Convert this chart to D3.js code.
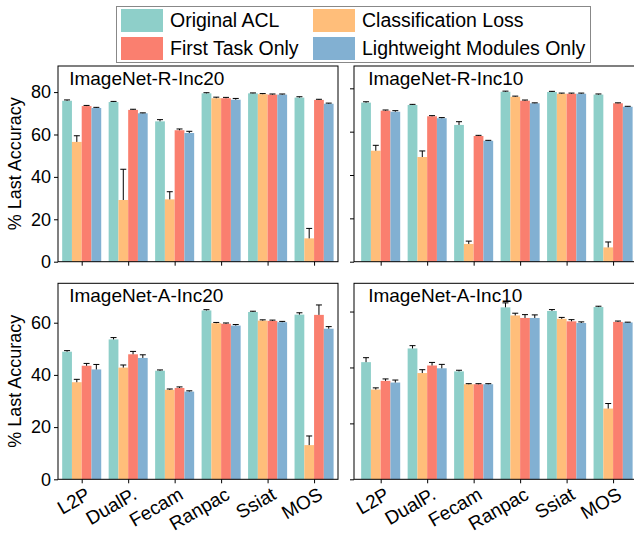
<!DOCTYPE html>
<html><head><meta charset="utf-8">
<script src="https://cdn.jsdelivr.net/npm/d3@7"></script>
<style>body{margin:0;background:#fff}svg{display:block}text{font-family:"Liberation Sans",Arial,sans-serif}</style>
</head><body>
<svg id="c" width="634" height="536"></svg>
<script>
// ---------- data ----------
const categories = ["L2P", "DualP.", "Fecam", "Ranpac", "Ssiat", "MOS"];
const seriesNames = ["Original ACL", "Classification Loss", "First Task Only", "Lightweight Modules Only"];
const seriesColors = ["#8ECFC9", "#FFBE7A", "#FA7F6F", "#82B0D2"];
const panelTitles = ["ImageNet-R-Inc20", "ImageNet-R-Inc10", "ImageNet-A-Inc20", "ImageNet-A-Inc10"];
const topTicks = [0, 20, 40, 60, 80];
const bottomTicks = [0, 20, 40, 60];

// ImageNet-R-Inc20
const rInc20Orig  = [75.9, 75.3, 66.2, 79.4, 79.4, 77.4];
const rInc20Cls   = [56.5, 29.1, 29.4, 77.1, 79.0, 11.0];
const rInc20First = [73.4, 71.6, 62.0, 77.1, 78.8, 76.3];
const rInc20Light = [72.5, 70.0, 60.7, 76.4, 78.8, 74.5];
const rInc20OrigErr  = [0.4, 0.3, 0.8, 0.3, 0.2, 0.4];
const rInc20ClsErr   = [2.9, 14.5, 3.6, 0.5, 0.3, 4.7];
const rInc20FirstErr = [0.3, 0.3, 0.6, 0.4, 0.3, 0.3];
const rInc20LightErr = [0.3, 0.2, 0.8, 0.6, 0.3, 0.3];
// ImageNet-R-Inc10
const rInc10Orig  = [73.4, 72.3, 63.1, 78.4, 78.3, 77.1];
const rInc10Cls   = [51.2, 48.3, 8.2, 76.1, 77.5, 6.6];
const rInc10First = [69.7, 67.1, 58.0, 74.3, 77.5, 73.1];
const rInc10Light = [69.2, 66.2, 55.8, 73.1, 77.5, 71.5];
const rInc10OrigErr  = [0.4, 0.3, 1.5, 0.3, 0.3, 0.3];
const rInc10ClsErr   = [2.5, 2.8, 1.3, 0.3, 0.3, 2.5];
const rInc10FirstErr = [0.3, 0.3, 0.3, 0.3, 0.3, 0.2];
const rInc10LightErr = [0.5, 0.3, 0.2, 0.2, 0.3, 0.2];
// ImageNet-A-Inc20
const aInc20Orig  = [48.9, 53.6, 41.6, 64.7, 64.1, 63.1];
const aInc20Cls   = [37.2, 42.8, 34.3, 59.8, 60.8, 13.1];
const aInc20First = [43.5, 47.9, 35.0, 59.6, 60.7, 63.0];
const aInc20Light = [42.1, 46.5, 33.6, 58.9, 60.2, 57.7];
const aInc20OrigErr  = [0.4, 0.7, 0.3, 0.3, 0.3, 0.7];
const aInc20ClsErr   = [1.1, 1.0, 0.3, 0.3, 0.3, 3.5];
const aInc20FirstErr = [0.9, 1.1, 0.4, 0.3, 0.3, 3.8];
const aInc20LightErr = [1.9, 1.2, 0.3, 0.4, 0.3, 0.8];
// ImageNet-A-Inc10
const aInc10Orig  = [41.9, 46.8, 38.6, 61.5, 60.2, 61.6];
const aInc10Cls   = [32.1, 38.0, 34.0, 58.6, 57.4, 25.3];
const aInc10First = [35.2, 40.7, 34.0, 57.7, 56.5, 56.3];
const aInc10Light = [34.6, 39.7, 34.0, 57.7, 55.9, 56.1];
const aInc10OrigErr  = [1.6, 1.0, 0.4, 1.6, 0.5, 0.3];
const aInc10ClsErr   = [0.6, 1.2, 0.2, 0.8, 0.5, 1.8];
const aInc10FirstErr = [0.7, 1.1, 0.2, 1.2, 0.6, 0.3];
const aInc10LightErr = [0.9, 1.4, 0.2, 1.1, 0.4, 0.1];

// ---------- layout ----------
const panels = [
  {title: panelTitles[0], vals: [rInc20Orig, rInc20Cls, rInc20First, rInc20Light], errs: [rInc20OrigErr, rInc20ClsErr, rInc20FirstErr, rInc20LightErr],
   x0: 58, x1: 338, xd: [-0.51, 5.515], y0: 66, y1: 261.7, yMax: 92.3, ticks: topTicks, yLabels: true, xLabels: false},
  {title: panelTitles[1], vals: [rInc10Orig, rInc10Cls, rInc10First, rInc10Light], errs: [rInc10OrigErr, rInc10ClsErr, rInc10FirstErr, rInc10LightErr],
   x0: 354, x1: 642, xd: [-0.574, 5.622], y0: 66, y1: 261.7, yMax: 90.3, ticks: topTicks, yLabels: false, xLabels: false},
  {title: panelTitles[2], vals: [aInc20Orig, aInc20Cls, aInc20First, aInc20Light], errs: [aInc20OrigErr, aInc20ClsErr, aInc20FirstErr, aInc20LightErr],
   x0: 58, x1: 338, xd: [-0.51, 5.515], y0: 283.3, y1: 479.3, yMax: 75.1, ticks: bottomTicks, yLabels: true, xLabels: true},
  {title: panelTitles[3], vals: [aInc10Orig, aInc10Cls, aInc10First, aInc10Light], errs: [aInc10OrigErr, aInc10ClsErr, aInc10FirstErr, aInc10LightErr],
   x0: 354, x1: 642, xd: [-0.574, 5.622], y0: 283.3, y1: 479.3, yMax: 70.1, ticks: bottomTicks, yLabels: false, xLabels: true}
];

const svg = d3.select("#c");
const barW = 0.21;
const FS = 18;

panels.forEach(p => {
  const xs = d3.scaleLinear().domain(p.xd).range([p.x0, p.x1]);
  const ys = d3.scaleLinear().domain([0, p.yMax]).range([p.y1, p.y0]);
  const g = svg.append("g");
  const bwPx = xs(barW) - xs(0);

  p.vals.forEach((arr, j) => {
    const off = (j - 1.5) * barW;
    g.selectAll(null).data(arr).enter().append("rect")
      .attr("x", (d, i) => xs(i + off) - bwPx / 2)
      .attr("width", bwPx)
      .attr("y", d => ys(d))
      .attr("height", d => ys(0) - ys(d))
      .attr("fill", seriesColors[j]);
  });
  // error bars (upper)
  p.vals.forEach((arr, j) => {
    const off = (j - 1.5) * barW;
    arr.forEach((v, i) => {
      const e = p.errs[j][i];
      const cx = xs(i + off);
      g.append("line").attr("x1", cx).attr("x2", cx).attr("y1", ys(v)).attr("y2", ys(v + e))
        .attr("stroke", "#000").attr("stroke-width", 1);
      g.append("line").attr("x1", cx - 3).attr("x2", cx + 3).attr("y1", ys(v + e)).attr("y2", ys(v + e))
        .attr("stroke", "#000").attr("stroke-width", 1);
    });
  });

  // axes
  const ya = d3.axisLeft(ys).tickValues(p.ticks).tickSize(4).tickPadding(3);
  if (!p.yLabels) ya.tickFormat("");
  const yg = g.append("g").attr("transform", `translate(${p.x0},0)`).call(ya);
  yg.select(".domain").remove();
  yg.selectAll("text").attr("font-size", FS).attr("font-family", "Liberation Sans, Arial, sans-serif").attr("fill", "#000");
  yg.selectAll("line").attr("stroke", "#000");

  const xa = d3.axisBottom(xs).tickValues(d3.range(categories.length)).tickSize(4).tickFormat("");
  const xg = g.append("g").attr("transform", `translate(0,${p.y1})`).call(xa);
  xg.select(".domain").remove();
  xg.selectAll("line").attr("stroke", "#000");

  if (p.xLabels) {
    g.selectAll(null).data(categories).enter().append("text")
      .attr("transform", (d, i) => `translate(${xs(i) + 3},${p.y1 + 7}) rotate(-30)`)
      .attr("text-anchor", "end")
      .attr("dy", "0.72em")
      .attr("font-size", 19)
      .text(d => d);
  }

  // frame
  g.append("rect").attr("x", p.x0).attr("y", p.y0).attr("width", p.x1 - p.x0).attr("height", p.y1 - p.y0)
    .attr("fill", "none").attr("stroke", "#000").attr("stroke-width", 1);

  // title
  g.append("text").attr("x", xs(-0.27)).attr("y", p.y0 + 19).attr("font-size", 19).text(p.title);
});

// y labels
[[163.8], [381.3]].forEach(([cy]) => {
  svg.append("text").attr("transform", `translate(21,${cy}) rotate(-90)`)
    .attr("text-anchor", "middle").attr("font-size", FS).text("% Last Accuracy");
});

// legend
const leg = svg.append("g");
leg.append("rect").attr("x", 116.5).attr("y", 6.5).attr("width", 474).attr("height", 56)
  .attr("fill", "#fff").attr("stroke", "#888").attr("stroke-width", 1);
const colX = [121, 313], rowY = [9, 37];
seriesNames.forEach((s, k) => {
  const c = k % 2, r = Math.floor(k / 2);
  leg.append("rect").attr("x", colX[c]).attr("y", rowY[r]).attr("width", 42).attr("height", 23).attr("fill", seriesColors[k]);
  leg.append("text").attr("x", colX[c] + 49).attr("y", rowY[r] + 11.5).attr("dy", "0.35em").attr("font-size", 19.5).text(s);
});
</script>
</body></html>
